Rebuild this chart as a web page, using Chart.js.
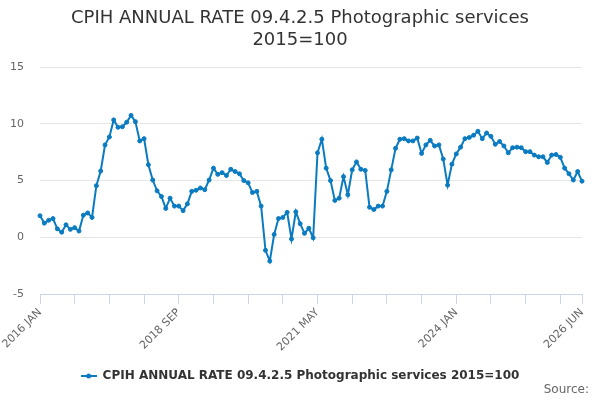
<!DOCTYPE html>
<html>
<head>
<meta charset="utf-8">
<script src="https://cdn.jsdelivr.net/npm/chart.js@4"></script>
<style>
html,body{margin:0;padding:0;background:#fff;}
#wrap{position:relative;width:600px;height:400px;}
#source{position:absolute;right:11px;top:382px;font-family:'DejaVu Sans',sans-serif;font-size:12px;color:#666;}
</style>
</head>
<body>
<div id="wrap">
<canvas id="c" width="600" height="400"></canvas>
<div id="source">Source:</div>
</div>
<script>
const monthNames = ['JAN','FEB','MAR','APR','MAY','JUN','JUL','AUG','SEP','OCT','NOV','DEC'];
const startYear = 2016;
const pointCount = 126;
const categories = [];
for (let i = 0; i < pointCount; i++) {
  categories.push((startYear + Math.floor(i / 12)) + ' ' + monthNames[i % 12]);
}
const tickLabels = ['2016 JAN', '2018 SEP', '2021 MAY', '2024 JAN', '2026 JUN'];
const seriesName = 'CPIH ANNUAL RATE 09.4.2.5 Photographic services 2015=100';
const values = [
  1.9, 1.25, 1.5, 1.65, 0.75, 0.45, 1.1, 0.7, 0.85, 0.55, 1.95, 2.15,
  1.75, 4.55, 5.85, 8.15, 8.85, 10.35, 9.7, 9.75, 10.15, 10.75, 10.2, 8.5,
  8.7, 6.4, 5.05, 4.1, 3.6, 2.55, 3.45, 2.75, 2.75, 2.35, 2.95, 4.05,
  4.15, 4.35, 4.2, 5.05, 6.1, 5.55, 5.7, 5.45, 6.0, 5.8, 5.6, 5.0,
  4.8, 3.95, 4.05, 2.75, -1.15, -2.1, 0.25, 1.65, 1.75, 2.2, -0.15, 2.25,
  1.2, 0.35, 0.8, -0.05, 7.45, 8.65, 6.1, 5.0, 3.25, 3.45, 5.35, 3.75,
  5.95, 6.65, 6.0, 5.9, 2.65, 2.45, 2.75, 2.75, 4.05, 5.95, 7.85, 8.65,
  8.7, 8.5, 8.5, 8.75, 7.4, 8.15, 8.55, 8.05, 8.15, 6.9, 4.6, 6.45,
  7.35, 7.95, 8.7, 8.8, 9.0, 9.35, 8.7, 9.2, 8.9, 8.2, 8.45, 8.05,
  7.45, 7.9, 7.95, 7.9, 7.55, 7.55, 7.25, 7.1, 7.1, 6.6, 7.25, 7.3,
  7.05, 6.1, 5.6, 5.05, 5.8, 4.95
];
const lineColor = '#0a7bc1';

Chart.defaults.font.family = "'DejaVu Sans', sans-serif";

// legend symbol: line with a dot
const sym = document.createElement('canvas');
sym.width = 16; sym.height = 8;
(function(){
  const g = sym.getContext('2d');
  g.strokeStyle = lineColor; g.lineWidth = 2;
  g.beginPath(); g.moveTo(0, 4); g.lineTo(16, 4); g.stroke();
  g.fillStyle = lineColor;
  g.beginPath(); g.arc(8, 4, 2.5, 0, Math.PI * 2); g.fill();
})();

new Chart(document.getElementById('c'), {
  type: 'line',
  data: {
    labels: categories,
    datasets: [{
      label: seriesName,
      data: values,
      borderColor: lineColor,
      backgroundColor: lineColor,
      borderWidth: 2,
      pointRadius: 2,
      pointHoverRadius: 3,
      pointBackgroundColor: lineColor,
      pointBorderColor: lineColor,
      pointBorderWidth: 1,
      tension: 0,
      pointStyle: 'circle'
    }]
  },
  options: {
    responsive: false,
    animation: false,
    layout: { padding: { left: 0, right: 0, top: 0, bottom: 8 } },
    plugins: {
      title: {
        display: true,
        text: ['CPIH ANNUAL RATE 09.4.2.5 Photographic services', '2015=100'],
        color: '#333333',
        font: { size: 18, weight: 'normal' },
        padding: { top: 8, bottom: 16 }
      },
      legend: {
        position: 'bottom',
        labels: {
          color: '#333333',
          font: { size: 12, weight: 'bold' },
          usePointStyle: true,
          pointStyle: sym,
          pointStyleWidth: 16,
          generateLabels: function(chart) {
            return chart.data.datasets.map((ds, i) => ({
              text: ds.label,
              fontColor: '#333333',
              pointStyle: sym,
              datasetIndex: i,
              hidden: false,
              lineWidth: 0,
              strokeStyle: lineColor,
              fillStyle: lineColor
            }));
          }
        }
      },
      tooltip: { enabled: false }
    },
    scales: {
      x: {
        type: 'category',
        offset: false,
        grid: {
          display: true,
          drawOnChartArea: false,
          drawTicks: true,
          tickLength: 10,
          color: '#ccd6eb'
        },
        border: { display: true, color: '#ccd6eb', width: 1 },
        ticks: {
          autoSkip: false,
          maxRotation: 45,
          minRotation: 45,
          color: '#666666',
          font: { size: 11 },
          padding: 2,
          callback: function(value, index) {
            const lab = categories[index];
            if (tickLabels.includes(lab)) return lab;
            if (index % 8 === 0) return '';
            return null;
          }
        },
        afterFit: function(scale) { scale.height = 66; }
      },
      y: {
        min: -5,
        max: 15,
        grid: {
          color: function(ctx) { return ctx.tick && ctx.tick.value === -5 ? 'rgba(0,0,0,0)' : '#e6e6e6'; },
          drawTicks: false
        },
        border: { display: false },
        ticks: {
          stepSize: 5,
          color: '#666666',
          font: { size: 11 },
          padding: 16
        },
        afterFit: function(scale) { scale.width = 40; }
      },
      yRight: {
        position: 'right',
        display: true,
        min: -5,
        max: 15,
        grid: { display: false, drawTicks: false },
        border: { display: false },
        ticks: { display: false },
        afterFit: function(scale) { scale.width = 18; }
      }
    }
  }
});
</script>
</body>
</html>
